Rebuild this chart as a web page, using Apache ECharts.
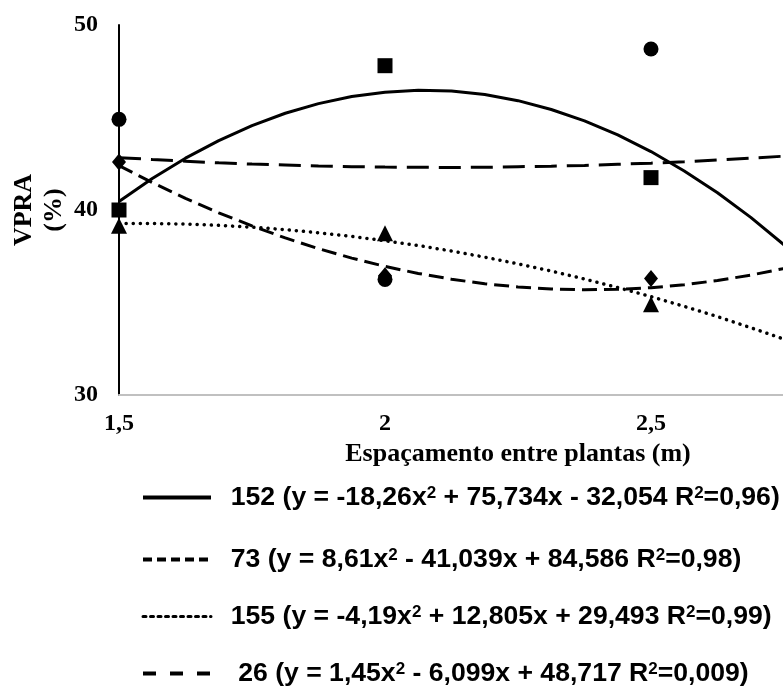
<!DOCTYPE html>
<html>
<head>
<meta charset="utf-8">
<script src="https://cdn.jsdelivr.net/npm/echarts@6/dist/echarts.min.js"></script>
<style>
  html, body { margin: 0; padding: 0; background: #fff; }
  #chart { width: 783px; height: 686px; }
</style>
</head>
<body>
<div id="chart"></div>
<script>
// x positions (m) and tick labels
var xTicks = [1.5, 2, 2.5, 3]
var xPoints = [1.5, 2, 2.5]

// observed points
var pts152 = [40.0, 47.8, 41.75]   // squares
var pts73 = [42.6, 36.45, 36.3]    // diamonds
var pts155 = [39.15, 38.75, 34.9]  // triangles
var pts26 = [44.9, 36.25, 48.7]    // circles

// trend curves (every 0,0625 m)
var xCurve = [1.5, 1.5625, 1.625, 1.6875, 1.75, 1.8125, 1.875, 1.9375, 2, 2.0625, 2.125,
  2.1875, 2.25, 2.3125, 2.375, 2.4375, 2.5, 2.5625, 2.625, 2.6875, 2.75]
var curve152 = [40.46, 41.70, 42.80, 43.75, 44.56, 45.23, 45.75, 46.14, 46.37, 46.47, 46.43,
  46.24, 45.91, 45.43, 44.82, 44.06, 43.16, 42.11, 40.93, 39.60, 38.12]
var curve73 = [42.40, 41.48, 40.63, 39.85, 39.14, 38.49, 37.91, 37.40, 36.95, 36.57, 36.26,
  36.01, 35.84, 35.73, 35.69, 35.71, 35.80, 35.96, 36.19, 36.48, 36.84]
var curve155 = [39.27, 39.27, 39.24, 39.17, 39.07, 38.94, 38.77, 38.57, 38.34, 38.08, 37.78,
  37.45, 37.09, 36.70, 36.27, 35.81, 35.32, 34.79, 34.24, 33.64, 33.02]
var curve26 = [42.83, 42.73, 42.64, 42.55, 42.48, 42.43, 42.38, 42.34, 42.32, 42.31, 42.30,
  42.31, 42.34, 42.37, 42.41, 42.47, 42.53, 42.61, 42.70, 42.80, 42.91]

var names = [
  '152 (y = -18,26x² + 75,734x - 32,054 R²=0,96)',
  '73 (y = 8,61x² - 41,039x + 84,586 R²=0,98)',
  '155 (y = -4,19x² + 12,805x + 29,493 R²=0,99)',
  ' 26 (y = 1,45x² - 6,099x + 48,717 R²=0,009)'
]

var pair = function (xs, ys) { return xs.map(function (x, i) { return [x, ys[i]] }) }

var serif = 'Liberation Serif, Times New Roman, serif'
var sans = 'Liberation Sans, Arial, sans-serif'

var curve = function (name, data, type, extra) {
  return {
    name: name,
    type: 'line',
    data: pair(xCurve, data),
    smooth: false,
    symbol: 'none',
    z: 2,
    itemStyle: { color: '#000' },
    lineStyle: Object.assign({ color: '#000', width: 3, type: type }, extra || {})
  }
}
var points = function (name, data, symbol, size) {
  return {
    name: name,
    type: 'scatter',
    data: pair(xPoints, data),
    symbol: symbol,
    symbolSize: size,
    z: 5,
    itemStyle: { color: '#000', opacity: 1 }
  }
}

var noMark = { color: 'rgba(0,0,0,0)', borderWidth: 0, opacity: 0 }
var legendItems = [
  { name: names[0], itemStyle: noMark, lineStyle: { width: 4, type: 'solid' } },
  { name: names[1], itemStyle: noMark, lineStyle: { width: 4, type: [9, 5] } },
  { name: names[2], itemStyle: noMark, lineStyle: { width: 3, type: [3, 4.5] } },
  { name: names[3], itemStyle: noMark, lineStyle: { width: 4, type: [13, 14] } }
]
var legendBlock = function (top, gap, items) {
  return {
    orient: 'vertical',
    left: 141,
    top: top,
    height: 120,
    padding: 0,
    itemWidth: 68,
    itemHeight: 26,
    itemGap: gap,
    selectedMode: false,
    formatter: function (n) { return '  ' + n.replace(/²/g, '{s|2}') },
    textStyle: {
      color: '#000', fontFamily: sans, fontWeight: 'bold', fontSize: 26.6, lineHeight: 26,
      rich: {
        s: { color: '#000', fontFamily: sans, fontWeight: 'bold', fontSize: 17, lineHeight: 18, verticalAlign: 'top' }
      }
    },
    data: items
  }
}

var chart = echarts.init(document.getElementById('chart'), null, { renderer: 'canvas' })
chart.setOption({
  animation: false,
  backgroundColor: '#fff',
  grid: { left: 119, right: -134, top: 25, bottom: 291, containLabel: false, outerBoundsMode: 'none' },
  xAxis: {
    type: 'value',
    min: 1.5,
    max: 3,
    interval: 0.5,
    name: 'Espaçamento entre plantas (m)',
    nameLocation: 'middle',
    nameGap: 43,
    nameTextStyle: { color: '#000', fontFamily: serif, fontWeight: 'bold', fontSize: 26 },
    axisLine: { show: true, lineStyle: { color: '#c0c0c0', width: 2 } },
    axisTick: { show: false },
    splitLine: { show: false },
    axisLabel: {
      margin: 17,
      color: '#000',
      fontFamily: serif,
      fontWeight: 'bold',
      fontSize: 24,
      formatter: function (v) {
        return xTicks.indexOf(v) >= 0 ? String(v).replace('.', ',') : ''
      }
    }
  },
  yAxis: {
    type: 'value',
    min: 30,
    max: 50,
    interval: 10,
    name: 'VPRA\n(%)',
    nameLocation: 'middle',
    nameRotate: 90,
    nameGap: 50,
    nameMoveOverlap: false,
    nameTextStyle: { color: '#000', fontFamily: serif, fontWeight: 'bold', fontSize: 26, lineHeight: 30 },
    axisLine: { show: true, lineStyle: { color: '#000', width: 2 } },
    axisTick: { show: false },
    splitLine: { show: false },
    axisLabel: { margin: 21, color: '#000', fontFamily: serif, fontWeight: 'bold', fontSize: 24 }
  },
  legend: [
    legendBlock(484, 35, legendItems.slice(0, 2)),
    legendBlock(603, 30, legendItems.slice(2, 4))
  ],
  series: [
    curve(names[0], curve152, 'solid'),
    curve(names[1], curve73, [15, 7]),
    curve(names[2], curve155, [0.1, 7], { cap: 'round', width: 3.5 }),
    curve(names[3], curve26, [22, 10]),
    points('pontos 73', pts73, 'diamond', [14, 17]),
    points('pontos 152', pts152, 'rect', 15),
    points('pontos 155', pts155, 'triangle', 16),
    points('pontos 26', pts26, 'circle', 15)
  ]
})
</script>
</body>
</html>
